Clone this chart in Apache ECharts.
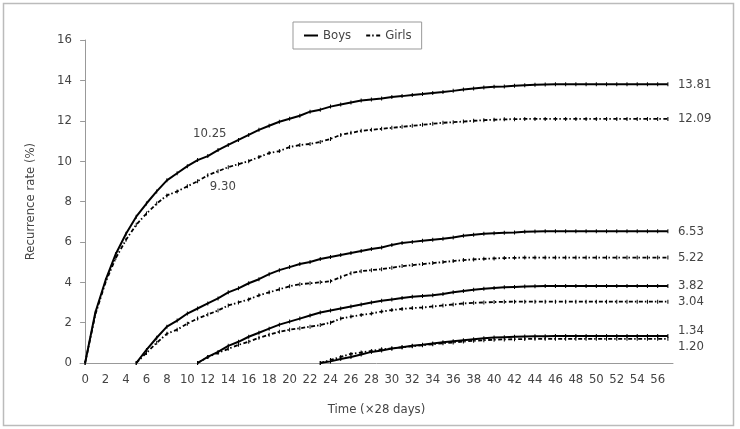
<!DOCTYPE html>
<html>
<head>
<meta charset="utf-8">
<script src="https://cdn.jsdelivr.net/npm/echarts@6/dist/echarts.min.js"></script>
<style>
  html, body { margin: 0; padding: 0; background: #fff; }
  #main { width: 740px; height: 429px; }
</style>
</head>
<body>
<div id="main"></div>
<script>
// x tick labels (Time, x28 days)
var xTicks = [0, 2, 4, 6, 8, 10, 12, 14, 16, 18, 20, 22, 24, 26, 28, 30, 32, 34, 36, 38, 40, 42, 44, 46, 48, 50, 52, 54, 56];

// curves: each starts at its own time point and runs to t=57
var boysStart0 = 0;
var boys0 = [0, 2.5, 4.1, 5.4, 6.4, 7.25, 7.9, 8.5, 9.05, 9.4, 9.75, 10.05, 10.25, 10.55, 10.8, 11.05, 11.3, 11.55, 11.75, 11.95,
    12.1, 12.25, 12.45, 12.55, 12.7, 12.8, 12.9, 13.0, 13.05, 13.1, 13.18, 13.22, 13.28, 13.32, 13.38, 13.42, 13.48, 13.55, 13.6, 13.65,
    13.68, 13.7, 13.73, 13.76, 13.78, 13.8, 13.81, 13.81, 13.81, 13.81, 13.81, 13.81, 13.81, 13.81, 13.81, 13.81, 13.81, 13.81];
var girls0 = [0, 2.4, 4.0, 5.2, 6.1, 6.85, 7.4, 7.9, 8.3, 8.5, 8.75, 9.0, 9.3, 9.5, 9.7, 9.85, 10.0, 10.2, 10.4, 10.5,
    10.7, 10.8, 10.85, 10.95, 11.1, 11.3, 11.4, 11.5, 11.55, 11.6, 11.65, 11.7, 11.75, 11.8, 11.85, 11.9, 11.93, 11.96, 12.0, 12.03,
    12.05, 12.07, 12.08, 12.09, 12.09, 12.09, 12.09, 12.09, 12.09, 12.09, 12.09, 12.09, 12.09, 12.09, 12.09, 12.09, 12.09, 12.09];

var boysStart5 = 5;
var boys5 = [0, 0.65, 1.25, 1.8, 2.1, 2.45, 2.7, 2.95, 3.2, 3.5, 3.7, 3.95, 4.15, 4.4, 4.6, 4.75, 4.9, 5.0, 5.15, 5.25,
    5.35, 5.45, 5.55, 5.65, 5.72, 5.85, 5.95, 6.0, 6.05, 6.1, 6.15, 6.22, 6.3, 6.35, 6.4, 6.43, 6.45, 6.47, 6.5, 6.52,
    6.53, 6.53, 6.53, 6.53, 6.53, 6.53, 6.53, 6.53, 6.53, 6.53, 6.53, 6.53, 6.53];
var girls5 = [0, 0.5, 1.0, 1.45, 1.65, 1.95, 2.2, 2.4, 2.6, 2.85, 3.0, 3.15, 3.35, 3.5, 3.65, 3.8, 3.9, 3.95, 4.0, 4.05,
    4.25, 4.45, 4.55, 4.6, 4.65, 4.72, 4.8, 4.85, 4.9, 4.95, 5.0, 5.05, 5.1, 5.13, 5.16, 5.18, 5.2, 5.21,
    5.22, 5.22, 5.22, 5.22, 5.22, 5.22, 5.22, 5.22, 5.22, 5.22, 5.22, 5.22, 5.22, 5.22, 5.22];

var boysStart11 = 11;
var boys11 = [0, 0.3, 0.55, 0.85, 1.05, 1.3, 1.5, 1.7, 1.9, 2.05, 2.2, 2.35, 2.5, 2.6, 2.7, 2.8, 2.9, 3.0, 3.08, 3.15,
    3.22, 3.28, 3.32, 3.36, 3.42, 3.5, 3.57, 3.63, 3.68, 3.72, 3.75, 3.77, 3.79, 3.8, 3.81,
    3.82, 3.82, 3.82, 3.82, 3.82, 3.82, 3.82, 3.82, 3.82, 3.82, 3.82, 3.82];
var girls11 = [0, 0.3, 0.5, 0.7, 0.9, 1.05, 1.25, 1.4, 1.55, 1.65, 1.72, 1.8, 1.88, 2.0, 2.2, 2.3, 2.38, 2.45, 2.55, 2.62,
    2.68, 2.72, 2.75, 2.8, 2.85, 2.9, 2.95, 2.98, 3.0, 3.02, 3.03,
    3.04, 3.04, 3.04, 3.04, 3.04, 3.04, 3.04, 3.04, 3.04, 3.04, 3.04, 3.04, 3.04, 3.04, 3.04, 3.04];

var boysStart23 = 23;
var boys23 = [0, 0.08, 0.2, 0.3, 0.42, 0.55, 0.62, 0.72, 0.78, 0.85, 0.9, 0.97, 1.03, 1.08, 1.13, 1.18, 1.23, 1.26, 1.28, 1.3,
    1.31, 1.32, 1.33, 1.34, 1.34, 1.34, 1.34, 1.34, 1.34, 1.34, 1.34, 1.34, 1.34, 1.34, 1.34];
var girls23 = [0, 0.15, 0.3, 0.45, 0.52, 0.6, 0.68, 0.72, 0.78, 0.83, 0.88, 0.93, 0.98, 1.02, 1.06, 1.1, 1.13, 1.15, 1.17, 1.18,
    1.19, 1.2, 1.2, 1.2, 1.2, 1.2, 1.2, 1.2, 1.2, 1.2, 1.2, 1.2, 1.2, 1.2, 1.2];

(function(){
    var font = "'Liberation Sans Narrow', 'DejaVu Sans Condensed', sans-serif";
    var txt = '#444';
    var chart = echarts.init(document.getElementById('main'));

    function toPoints(start, vals) {
        return vals.map(function (v, i) { return [start + i, v]; });
    }

    // one series per curve; boys solid, girls dash-dot
    function curve(name, start, vals, endOffset) {
        var girl = name === 'Girls';
        return {
            name: name,
            type: 'line',
            data: toPoints(start, vals),
            symbol: 'rect',
            symbolSize: [1, 4],
            itemStyle: { color: '#000' },
            lineStyle: {
                color: '#000',
                width: girl ? 1.8 : 2,
                type: girl ? [4, 2, 1.5, 2.5] : 'solid'
            },
            endLabel: {
                show: true,
                distance: 10,
                offset: endOffset || [0, 0],
                color: txt,
                fontSize: 13,
                fontFamily: font,
                formatter: function (p) { return p.value[1].toFixed(2); }
            },
            emphasis: { disabled: true }
        };
    }

    var sBoys0 = curve('Boys', boysStart0, boys0);
    var sGirls0 = curve('Girls', boysStart0, girls0);
    // 1-year labels
    sBoys0.data[12] = {
        value: sBoys0.data[12],
        label: { show: true, position: 'top', distance: 14, offset: [2, 0], color: txt, fontSize: 13, fontFamily: font,
            formatter: function (p) { return p.value[1].toFixed(2); } }
    };
    sGirls0.data[12] = {
        value: sGirls0.data[12],
        label: { show: true, position: 'bottom', distance: 3, offset: [15, 0], color: txt, fontSize: 13, fontFamily: font,
            formatter: function (p) { return p.value[1].toFixed(2); } }
    };

    var option = {
        animation: false,
        grid: { left: 80, right: 67, top: 40, bottom: 66 },
        graphic: [{
            type: 'rect',
            silent: true,
            shape: { x: 3.5, y: 3.5, width: 730, height: 422 },
            style: { fill: 'none', stroke: '#bbb', lineWidth: 1.5 }
        }],
        legend: {
            left: 293,
            top: 22,
            padding: [7, 10, 7, 10],
            itemWidth: 14,
            itemHeight: 8,
            itemGap: 14,
            borderColor: '#999',
            borderWidth: 1,
            itemStyle: { opacity: 0 },
            data: ['Boys', 'Girls'],
            textStyle: { color: txt, fontSize: 13, fontFamily: font }
        },
        xAxis: {
            type: 'value',
            min: -0.5,
            max: 57.5,
            name: 'Time (\u00d728 days)',
            nameLocation: 'middle',
            nameGap: 40,
            nameTextStyle: { color: txt, fontSize: 13, fontFamily: font },
            axisLine: { lineStyle: { color: '#999', width: 1 } },
            axisTick: { show: false },
            splitLine: { show: false },
            axisLabel: { customValues: xTicks, margin: 10, color: txt, fontSize: 13, fontFamily: font }
        },
        yAxis: {
            type: 'value',
            min: 0,
            max: 16,
            interval: 2,
            name: 'Recurrence rate (%)',
            nameLocation: 'middle',
            nameGap: 43,
            nameTextStyle: { color: txt, fontSize: 13, fontFamily: font },
            axisLine: { show: true, lineStyle: { color: '#999', width: 1 } },
            axisTick: { show: true, length: 5, lineStyle: { color: '#999' } },
            splitLine: { show: false },
            axisLabel: { margin: 8, color: txt, fontSize: 13, fontFamily: font }
        },
        series: [
            sBoys0, sGirls0,
            curve('Boys', boysStart5, boys5),
            curve('Girls', boysStart5, girls5),
            curve('Boys', boysStart11, boys11),
            curve('Girls', boysStart11, girls11),
            curve('Boys', boysStart23, boys23, [0, -5]),
            curve('Girls', boysStart23, girls23, [0, 8])
        ]
    };

    chart.setOption(option);
})();
</script>
</body>
</html>
